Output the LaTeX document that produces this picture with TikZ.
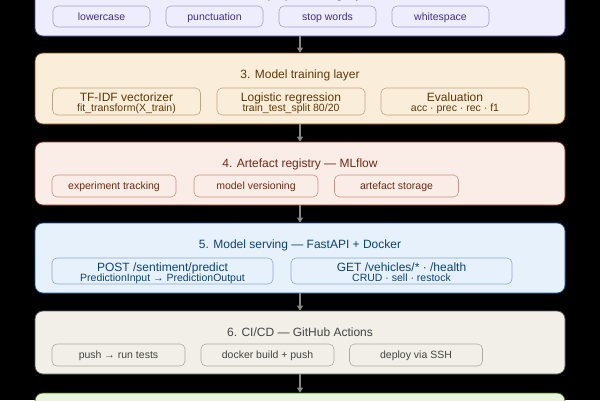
\documentclass[tikz,border=0pt]{standalone}
\usepackage{fontspec}
\setmainfont{Liberation Sans}
\usetikzlibrary{arrows.meta}
\definecolor{pfill}{HTML}{EEEDFE}\definecolor{pdraw}{HTML}{534AB7}\definecolor{ptext}{HTML}{3C3489}\definecolor{pchip}{HTML}{A39ED6}
\definecolor{ofill}{HTML}{FAEEDA}\definecolor{odraw}{HTML}{854F0B}\definecolor{otext}{HTML}{633806}\definecolor{ochip}{HTML}{BFA485}
\definecolor{rfill}{HTML}{FAECE7}\definecolor{rdraw}{HTML}{993C1D}\definecolor{rtext}{HTML}{712B13}\definecolor{rchip}{HTML}{C99484}
\definecolor{bfill}{HTML}{E6F1FB}\definecolor{bdraw}{HTML}{185FA5}\definecolor{btext}{HTML}{0C447C}\definecolor{bchip}{HTML}{8AA9C8}
\definecolor{gfill}{HTML}{F1EFE8}\definecolor{gdraw}{HTML}{5F5E5A}\definecolor{gtext}{HTML}{444441}\definecolor{gchip}{HTML}{ABAAA5}
\definecolor{lfill}{HTML}{EAF3DE}\definecolor{ldraw}{HTML}{3B6D11}
\definecolor{arrowgray}{HTML}{888780}
\begin{document}
\begin{tikzpicture}[x=1pt,y=-1pt,
  layer/.style={draw, rounded corners=8pt, minimum width=530pt, line width=0.7pt, inner sep=0pt},
  chip/.style={draw, rounded corners=5pt, line width=0.6pt, inner sep=0pt},
  ttl/.style={font=\fontsize{12}{14}\selectfont, inner sep=0pt, anchor=base},
  ctxt/.style={font=\fontsize{10.5}{12}\selectfont, inner sep=0pt, anchor=base},
  arr/.style={draw=arrowgray, line width=1.5pt, -{Triangle[length=5pt,width=6pt]}}]
\useasboundingbox (0,0) rectangle (600,400);
\fill[black] (0,0) rectangle (600,400);
\begin{scope}
\clip (0,0) rectangle (600,400);
% ---------- layer 2
\node[layer, fill=pfill, draw=pdraw, minimum height=63pt] (b2) at (300,4.5) {};
\node[ttl, text=ptext] (t2) at (300,-1.7) {2. Text preprocessing layer};
\tikzset{p2/.style={chip, fill=pfill, draw=pchip, minimum width=97pt, minimum height=21pt}}
\node[p2] (c21) at (101.5,16.5) {};
\node[p2] (c22) at (214.5,16.5) {};
\node[p2] (c23) at (327.5,16.5) {};
\node[p2] (c24) at (440.5,16.5) {};
\node[ctxt, text=ptext] (c21t) at (101.5,20.2) {lowercase};
\node[ctxt, text=ptext] (c22t) at (214.5,20.2) {punctuation};
\node[ctxt, text=ptext] (c23t) at (327.5,20.2) {stop words};
\node[ctxt, text=ptext] (c24t) at (440.5,20.2) {whitespace};
% ---------- layer 3
\node[layer, fill=ofill, draw=odraw, minimum height=71pt] (b3) at (300,88.5) {};
\node[ttl, text=otext] (t3) at (300,78.3) {3. Model training layer};
\tikzset{p3/.style={chip, fill=ofill, draw=ochip, minimum width=148pt, minimum height=27pt}}
\node[p3] (c31) at (126.5,101.5) {};
\node[p3] (c32) at (291,101.5) {};
\node[p3] (c33) at (455,101.5) {};
\node[ttl, text=otext] (c31a) at (126.5,101.3) {TF-IDF vectorizer};
\node[ctxt, text=otext] (c31b) at (126.5,111.8) {fit\_transform(X\_train)};
\node[ttl, text=otext] (c32a) at (291,101.3) {Logistic regression};
\node[ctxt, text=otext] (c32b) at (291,111.8) {train\_test\_split 80/20};
\node[ttl, text=otext] (c33a) at (455,101.3) {Evaluation};
\node[ctxt, text=otext] (c33b) at (455,111.8) {acc · prec · rec · f1};
% ---------- layer 4
\node[layer, fill=rfill, draw=rdraw, minimum height=63pt] (b4) at (300,173.5) {};
\node[ttl, text=rtext] (t4) at (300,167.3) {4. Artefact registry — MLflow};
\tikzset{p4/.style={chip, fill=rfill, draw=rchip, minimum width=124pt, minimum height=22pt}}
\node[p4] (c41) at (114,186) {};
\node[p4] (c42) at (256,186) {};
\node[p4] (c43) at (396.5,186) {};
\node[ctxt, text=rtext] (c41t) at (114,189.7) {experiment tracking};
\node[ctxt, text=rtext] (c42t) at (256,189.7) {model versioning};
\node[ctxt, text=rtext] (c43t) at (396.5,189.7) {artefact storage};
% ---------- layer 5
\node[layer, fill=bfill, draw=bdraw, minimum height=70pt] (b5) at (300,258) {};
\node[ttl, text=btext] (t5) at (300,248.3) {5. Model serving — FastAPI + Docker};
\tikzset{p5/.style={chip, fill=bfill, draw=bchip, minimum width=221pt, minimum height=26pt}}
\node[p5] (c51) at (162.5,271) {};
\node[p5] (c52) at (401.5,271) {};
\node[ttl, text=btext] (c51a) at (162.5,271) {POST /sentiment/predict};
\node[ctxt, text=btext] (c51b) at (162.5,281.4) {PredictionInput → PredictionOutput};
\node[ttl, text=btext] (c52a) at (401.5,271) {GET /vehicles/* · /health};
\node[ctxt, text=btext] (c52b) at (401.5,281.4) {CRUD · sell · restock};
% ---------- layer 6
\node[layer, fill=gfill, draw=gdraw, minimum height=63pt] (b6) at (300,342.5) {};
\node[ttl, text=gtext] (t6) at (300,336.3) {6. CI/CD — GitHub Actions};
\tikzset{p6/.style={chip, fill=gfill, draw=gchip, minimum width=133pt, minimum height=22pt}}
\node[p6] (c61) at (118.5,355) {};
\node[p6] (c62) at (267.5,355) {};
\node[p6] (c63) at (416,355) {};
\node[ctxt, text=gtext] (c61t) at (118.5,358.7) {push → run tests};
\node[ctxt, text=gtext] (c62t) at (267.5,358.7) {docker build + push};
\node[ctxt, text=gtext] (c63t) at (416,358.7) {deploy via SSH};
% ---------- layer 7
\node[layer, fill=lfill, draw=ldraw, minimum height=70pt] (b7) at (300,428) {};
% ---------- arrows
\draw[arr] (b2.south) -- (b3.north);
\draw[arr] (b3.south) -- (b4.north);
\draw[arr] (b4.south) -- (b5.north);
\draw[arr] (b5.south) -- (b6.north);
\draw[arr] (b6.south) -- (b7.north);
\end{scope}
\end{tikzpicture}
\end{document}
